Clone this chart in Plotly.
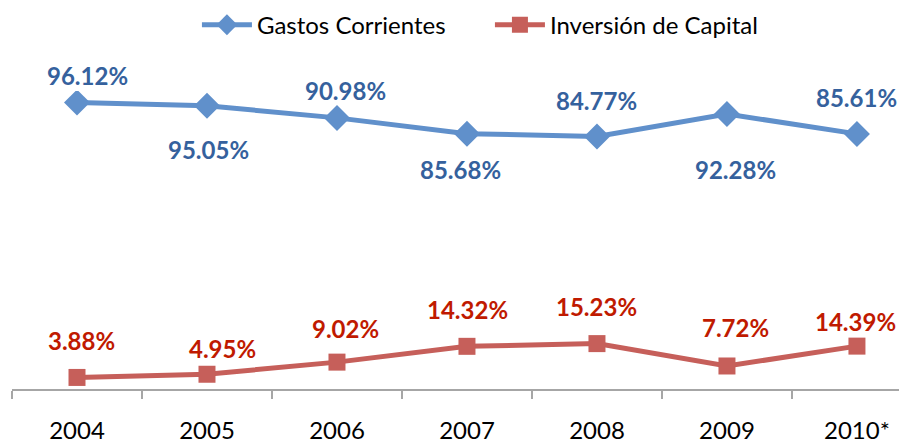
import plotly.graph_objects as go

years = ["2004", "2005", "2006", "2007", "2008", "2009", "2010*"]
gastos = [96.12, 95.05, 90.98, 85.68, 84.77, 92.28, 85.61]
inversion = [3.88, 4.95, 9.02, 14.32, 15.23, 7.72, 14.39]

# label offsets (px) relative to each point
gastos_yshift = [27, -44, 27, -36, 36, -55, 36]
gastos_xshift = [10, 2, 9, -6, 0, 9, 0]
inv_yshift = [37, 26, 34, 37, 37, 38, 25]
inv_xshift = [4, 16, 9, 1, 0, 9, -1]

blue_line = "#6090CB"
blue_text = "#35619D"
red_line = "#C65F5A"
red_text = "#C01A00"
FONT = "Lato"

fig = go.Figure()
fig.add_trace(go.Scatter(
    x=years, y=gastos, name="Gastos Corrientes", mode="lines+markers",
    line=dict(color=blue_line, width=5),
    marker=dict(symbol="diamond", size=20, color=blue_line),
))
fig.add_trace(go.Scatter(
    x=years, y=inversion, name="Inversión de Capital", mode="lines+markers",
    line=dict(color=red_line, width=5),
    marker=dict(symbol="square", size=17, color=red_line),
))

annotations = []
for i, v in enumerate(gastos):
    annotations.append(dict(
        x=i, y=v, xref="x", yref="y", text=f"{v:.2f}%", showarrow=False,
        yshift=gastos_yshift[i], xshift=gastos_xshift[i],
        font=dict(family=FONT, size=24, color=blue_text, weight="bold"),
    ))
for i, v in enumerate(inversion):
    annotations.append(dict(
        x=i, y=v, xref="x", yref="y", text=f"{v:.2f}%", showarrow=False,
        yshift=inv_yshift[i], xshift=inv_xshift[i],
        font=dict(family=FONT, size=24, color=red_text, weight="bold"),
    ))

fig.update_layout(
    width=899, height=435,
    margin=dict(l=4, r=0, t=83, b=54, autoexpand=False),
    paper_bgcolor="white", plot_bgcolor="white",
    showlegend=True,
    legend=dict(orientation="h", x=0.534, xanchor="center", y=1.221, yanchor="middle",
                font=dict(family=FONT, size=24, color="#000000"),
                itemwidth=50, entrywidth=228,
                bgcolor="rgba(0,0,0,0)"),
    annotations=annotations,
    xaxis=dict(
        type="category", range=[-0.5, 6.385], tickson="boundaries",
        ticks="outside", ticklen=8, tickcolor="#A6A6A6", tickwidth=1.5,
        showline=True, linecolor="#A6A6A6", linewidth=1.5,
        showgrid=False, zeroline=False,
        tickfont=dict(family=FONT, size=24, color="#000000"),
        ticklabelstandoff=19,
    ),
    yaxis=dict(range=[0, 100], visible=False, showgrid=False, zeroline=False),
)

fig.write_html("out.html")
